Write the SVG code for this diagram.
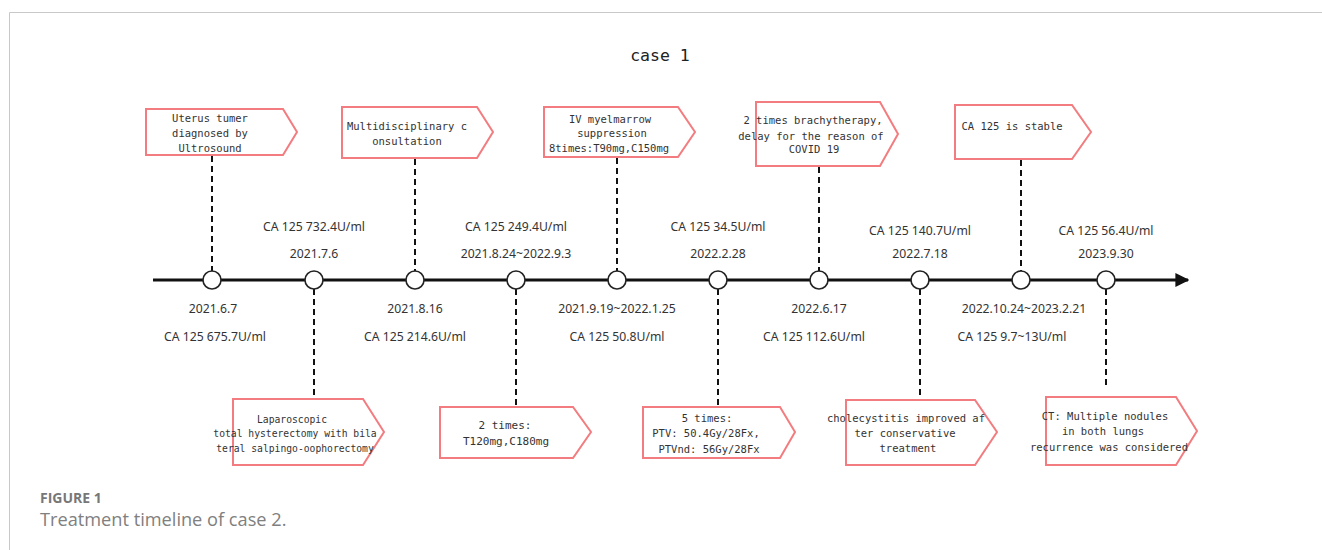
<svg xmlns="http://www.w3.org/2000/svg" width="1322" height="550" viewBox="0 0 1322 550">
<defs>
<style>
.box{fill:#fff;stroke:#f27c7f;stroke-width:2}
.bt{font-family:"DejaVu Sans Mono","Liberation Mono",monospace;font-size:10.5px;fill:#333;text-anchor:middle}
.lb{font-family:"Noto Sans","Open Sans",sans-serif;font-size:12.2px;fill:#333;text-anchor:middle}
.dash{stroke:#111;stroke-width:2;stroke-dasharray:6 4;fill:none}
.node{fill:#fff;stroke:#222;stroke-width:1.6}
</style>
<marker id="arr" viewBox="0 0 10 10" refX="9" refY="5" markerWidth="5" markerHeight="5" orient="auto" markerUnits="strokeWidth">
<path d="M0,0 L10,5 L0,10 Z" fill="#111"/>
</marker>
</defs>
<rect width="1322" height="550" fill="#fff"/>
<path d="M9.5,550 V12.5 H1322" fill="none" stroke="#c8c8c8" stroke-width="1"/>
<text x="660" y="61" text-anchor="middle" font-family="DejaVu Sans Mono, Liberation Mono, monospace" font-size="16.5" fill="#222">case 1</text>

<g id="connectors">
<line x1="153" y1="280" x2="1188" y2="280" stroke="#111" stroke-width="2.8" marker-end="url(#arr)"/>
<line class="dash" x1="212" y1="156" x2="212" y2="271"/>
<line class="dash" x1="415" y1="159" x2="415" y2="271"/>
<line class="dash" x1="617" y1="158" x2="617" y2="271"/>
<line class="dash" x1="819" y1="167" x2="819" y2="271"/>
<line class="dash" x1="1021" y1="160" x2="1021" y2="271"/>
<line class="dash" x1="314" y1="289" x2="314" y2="398"/>
<line class="dash" x1="516" y1="289" x2="516" y2="406"/>
<line class="dash" x1="718" y1="289" x2="718" y2="406"/>
<line class="dash" x1="920" y1="289" x2="920" y2="399"/>
<line class="dash" x1="1106" y1="289" x2="1106" y2="386"/>
</g>

<g id="nodes">
<circle class="node" cx="212" cy="280" r="9"/>
<circle class="node" cx="314" cy="280" r="9"/>
<circle class="node" cx="415" cy="280" r="9"/>
<circle class="node" cx="516" cy="280" r="9"/>
<circle class="node" cx="617" cy="280" r="9"/>
<circle class="node" cx="718" cy="280" r="9"/>
<circle class="node" cx="819" cy="280" r="9"/>
<circle class="node" cx="920" cy="280" r="9"/>
<circle class="node" cx="1021" cy="280" r="9"/>
<circle class="node" cx="1106" cy="280" r="9"/>
</g>

<g id="labels">
<text class="lb" x="314" y="231">CA 125 732.4U/ml</text>
<text class="lb" x="314" y="258">2021.7.6</text>
<text class="lb" x="516" y="231">CA 125 249.4U/ml</text>
<text class="lb" x="516" y="258">2021.8.24~2022.9.3</text>
<text class="lb" x="718" y="231">CA 125 34.5U/ml</text>
<text class="lb" x="718" y="258">2022.2.28</text>
<text class="lb" x="920" y="235">CA 125 140.7U/ml</text>
<text class="lb" x="920" y="258">2022.7.18</text>
<text class="lb" x="1106" y="235">CA 125 56.4U/ml</text>
<text class="lb" x="1106" y="258">2023.9.30</text>
<text class="lb" x="213" y="313">2021.6.7</text>
<text class="lb" x="215" y="341">CA 125 675.7U/ml</text>
<text class="lb" x="415" y="313">2021.8.16</text>
<text class="lb" x="415" y="341">CA 125 214.6U/ml</text>
<text class="lb" x="617" y="313">2021.9.19~2022.1.25</text>
<text class="lb" x="617" y="341">CA 125 50.8U/ml</text>
<text class="lb" x="819" y="313">2022.6.17</text>
<text class="lb" x="814" y="341">CA 125 112.6U/ml</text>
<text class="lb" x="1024" y="313">2022.10.24~2023.2.21</text>
<text class="lb" x="1012" y="341">CA 125 9.7~13U/ml</text>
</g>

<g id="box1">
<path class="box" d="M146,109 H283 L297,132 L283,155 H146 Z"/>
<text class="bt" x="210" y="122">Uterus tumer</text>
<text class="bt" x="210" y="137">diagnosed by</text>
<text class="bt" x="210" y="152">Ultrosound</text>
</g>
<g id="box2">
<path class="box" d="M342,107 H477 L493,132 L477,158 H342 Z"/>
<text class="bt" x="407" y="130">Multidisciplinary c</text>
<text class="bt" x="407" y="145">onsultation</text>
</g>
<g id="box3">
<path class="box" d="M544,107 H678 L695,132 L678,157 H544 Z"/>
<text class="bt" x="610" y="123">IV myelmarrow</text>
<text class="bt" x="612" y="137">suppression</text>
<text class="bt" x="609" y="152">8times:T90mg,C150mg</text>
</g>
<g id="box4">
<path class="box" d="M756,102 H880 L898,134 L880,166 H756 Z"/>
<text class="bt" x="813" y="124">2 times brachytherapy,</text>
<text class="bt" x="811" y="140">delay for the reason of</text>
<text class="bt" x="814" y="153">COVID 19</text>
</g>
<g id="box5">
<path class="box" d="M955,105 H1072 L1091,132 L1072,159 H955 Z"/>
<text class="bt" x="1012" y="130">CA 125 is stable</text>
</g>
<g id="box6">
<path class="box" d="M233,399 H363 L384,432 L363,465 H233 Z"/>
<text class="bt" x="292" y="423" style="font-size:9.7px">Laparoscopic</text>
<text class="bt" x="295" y="437" style="font-size:9.7px">total hysterectomy with bila</text>
<text class="bt" x="295" y="452" style="font-size:9.7px">teral salpingo-oophorectomy</text>
</g>
<g id="box7">
<path class="box" d="M440,407 H573 L591,432 L573,458 H440 Z"/>
<text class="bt" x="505" y="429" style="font-size:11px">2 times:</text>
<text class="bt" x="506" y="445" style="font-size:11px">T120mg,C180mg</text>
</g>
<g id="box8">
<path class="box" d="M643,407 H780 L795,432 L780,458 H643 Z"/>
<text class="bt" x="707" y="422">5 times:</text>
<text class="bt" x="706" y="437">PTV: 50.4Gy/28Fx,</text>
<text class="bt" x="709" y="453">PTVnd: 56Gy/28Fx</text>
</g>
<g id="box9">
<path class="box" d="M846,400 H975 L997,432 L975,465 H846 Z"/>
<text class="bt" x="906" y="422">cholecystitis improved af</text>
<text class="bt" x="905" y="437">ter conservative</text>
<text class="bt" x="908" y="452">treatment</text>
</g>
<g id="box10">
<path class="box" d="M1046,397 H1176 L1197,431 L1176,465 H1046 Z"/>
<text class="bt" x="1105" y="420">CT: Multiple nodules</text>
<text class="bt" x="1103" y="435">in both lungs</text>
<text class="bt" x="1109" y="451">recurrence was considered</text>
</g>

<text x="40" y="503" font-family="Open Sans, Lato, sans-serif" font-size="14" font-weight="bold" fill="#777">FIGURE 1</text>
<text x="40" y="526" font-family="Open Sans, Lato, sans-serif" font-size="18.2" fill="#808080">Treatment timeline of case 2.</text>
</svg>
